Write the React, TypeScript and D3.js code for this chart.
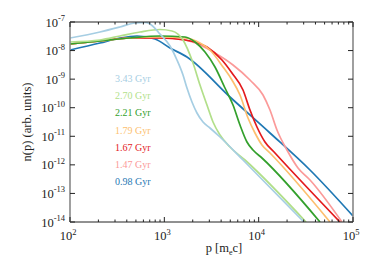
import React from "react";
import * as d3 from "d3";

// Series: log10(p) and log10(n)
const ages = ["3.43 Gyr", "2.70 Gyr", "2.21 Gyr", "1.79 Gyr", "1.67 Gyr", "1.47 Gyr", "0.98 Gyr"];
const colors = ["#a6cee3", "#b2df8a", "#33a02c", "#fdbf6f", "#e31a1c", "#fb9a99", "#1f78b4"];

const logP_343 = [2, 2.318, 2.53, 2.689, 2.795, 2.848, 2.954, 3.06, 3.134, 3.198, 3.24, 3.293, 3.346, 3.41, 3.484, 3.59, 3.834, 4.48];
const logN_343 = [-7.56, -7.35, -7.175, -7.035, -7.018, -7.07, -7.42, -7.84, -8.33, -8.855, -9.31, -9.8, -10.185, -10.5, -10.71, -11.025, -11.83, -14.0];

const logP_270 = [2, 2.318, 2.53, 2.742, 2.954, 3.081, 3.198, 3.304, 3.378, 3.452, 3.516, 3.59, 3.696, 3.855, 4.502];
const logN_270 = [-7.7, -7.63, -7.49, -7.35, -7.2625, -7.315, -7.63, -8.435, -9.205, -9.905, -10.5, -10.955, -11.375, -11.83, -14.0];

const logP_221 = [2, 2.318, 2.636, 2.954, 3.219, 3.325, 3.431, 3.537, 3.643, 3.728, 3.802, 3.876, 3.94, 4.035, 4.65];
const logN_221 = [-7.77, -7.665, -7.56, -7.49, -7.525, -7.7, -8.05, -8.575, -9.31, -9.905, -10.605, -11.2, -11.48, -11.76, -14.0];

const logP_179 = [2, 2.318, 2.636, 2.954, 3.219, 3.378, 3.484, 3.622, 3.717, 3.802, 3.887, 3.961, 4.035, 4.12, 4.756];
const logN_179 = [-7.77, -7.665, -7.56, -7.525, -7.56, -7.735, -7.98, -8.575, -9.03, -9.555, -10.36, -10.885, -11.305, -11.585, -14.0];

const logP_167 = [2, 2.318, 2.636, 2.954, 3.219, 3.452, 3.611, 3.717, 3.834, 3.908, 3.982, 4.067, 4.173, 4.862];
const logN_167 = [-7.77, -7.665, -7.56, -7.56, -7.63, -7.875, -8.33, -8.785, -9.38, -10.08, -10.675, -11.2, -11.585, -14.0];

const logP_147 = [2, 2.318, 2.636, 2.954, 3.219, 3.378, 3.537, 3.728, 3.908, 4.046, 4.12, 4.194, 4.3, 4.417, 4.544, 4.883];
const logN_147 = [-7.77, -7.665, -7.56, -7.56, -7.63, -7.805, -8.085, -8.505, -9.03, -9.555, -10.08, -10.78, -11.48, -12.11, -12.53, -14.0];

const logP_098 = [2, 2.318, 2.53, 2.71, 2.901, 3.06, 3.24, 3.696, 4.12, 4.544, 5.0];
const logN_098 = [-7.98, -7.735, -7.56, -7.49, -7.595, -7.91, -8.225, -9.625, -10.885, -12.18, -13.79];

const seriesP = [logP_343, logP_270, logP_221, logP_179, logP_167, logP_147, logP_098];
const seriesN = [logN_343, logN_270, logN_221, logN_179, logN_167, logN_147, logN_098];

const xTickExp = [2, 3, 4, 5];
const yTickExp = [-14, -13, -12, -11, -10, -9, -8, -7];

const W = 374, H = 267;
const M = { left: 70, right: 353, top: 22, bottom: 222 };
const FONT = { fontFamily: "Liberation Serif" };

export default function App() {
  const x = d3.scaleLog().domain([1e2, 1e5]).range([M.left, M.right]);
  const y = d3.scaleLog().domain([1e-14, 1e-7]).range([M.bottom, M.top]);

  const line = d3
    .line<[number, number]>()
    .x((d) => x(Math.pow(10, d[0])))
    .y((d) => y(Math.pow(10, d[1])))
    .curve(d3.curveMonotoneX);

  const minor: number[] = [];
  for (let e = 2; e < 5; e++) for (let k = 2; k <= 9; k++) minor.push(k * Math.pow(10, e));

  const order = [6, 5, 4, 3, 2, 1, 0];

  return (
    <svg width={W} height={H} style={{ display: "block", position: "absolute", left: 0, top: 0 }}>
      <defs>
        <clipPath id="plotclip">
          <rect x={M.left} y={M.top} width={M.right - M.left} height={M.bottom - M.top} />
        </clipPath>
      </defs>
      <rect width={W} height={H} fill="#fff" />
      <g clipPath="url(#plotclip)">
        {order.map((i) => (
          <path
            key={i}
            d={line(seriesP[i].map((p, j) => [p, seriesN[i][j]] as [number, number])) || ""}
            fill="none"
            stroke={colors[i]}
            strokeWidth={1.7}
          />
        ))}
      </g>
      <line x1={M.left} x2={M.right} y1={M.top} y2={M.top} stroke="#222" strokeWidth={1} />
      <line x1={M.left} x2={M.right} y1={M.bottom} y2={M.bottom} stroke="#222" strokeWidth={1} />
      <line x1={M.left} x2={M.left} y1={M.top} y2={M.bottom} stroke="#888" strokeWidth={1.6} />
      <line x1={M.right} x2={M.right} y1={M.top} y2={M.bottom} stroke="#888" strokeWidth={1.6} />
      {xTickExp.map((e) => {
        const px = x(Math.pow(10, e));
        return (
          <g key={"xt" + e}>
            <line x1={px} x2={px} y1={M.bottom} y2={M.bottom - 5} stroke="#222" />
            <line x1={px} x2={px} y1={M.top} y2={M.top + 5} stroke="#222" />
            <text x={px - 2} y={M.bottom + 18} fontSize={12.5} textAnchor="middle" fill="#222" style={FONT}>
              10
              <tspan fontSize={8.5} dy={-5.5}>{e}</tspan>
            </text>
          </g>
        );
      })}
      {minor.map((v) => {
        const px = x(v);
        return (
          <g key={"mx" + v}>
            <line x1={px} x2={px} y1={M.bottom} y2={M.bottom - 2.5} stroke="#222" />
            <line x1={px} x2={px} y1={M.top} y2={M.top + 2.5} stroke="#222" />
          </g>
        );
      })}
      {yTickExp.map((e) => {
        const py = y(Math.pow(10, e));
        return (
          <g key={"yt" + e}>
            <line x1={M.left} x2={M.left + 5} y1={py} y2={py} stroke="#222" />
            <line x1={M.right} x2={M.right - 5} y1={py} y2={py} stroke="#222" />
            <text x={65} y={py + 4.5} fontSize={12.5} textAnchor="end" fill="#222" style={FONT}>
              10
              <tspan fontSize={8.5} dy={-5.5}>{e}</tspan>
            </text>
          </g>
        );
      })}
      <text x={224} y={252} fontSize={12.5} textAnchor="middle" fill="#222" style={FONT}>
        p [m
        <tspan fontSize={8} dy={3}>e</tspan>
        <tspan dy={-3}>c]</tspan>
      </text>
      <text transform="translate(31,122) rotate(-90)" fontSize={12.5} textAnchor="middle" fill="#222" style={FONT}>
        n(p) (arb. units)
      </text>
      {ages.map((a, i) => (
        <text key={a} x={115} y={82 + i * 17.2} fontSize={10} fill={colors[i]} style={FONT}>
          {a}
        </text>
      ))}
    </svg>
  );
}
